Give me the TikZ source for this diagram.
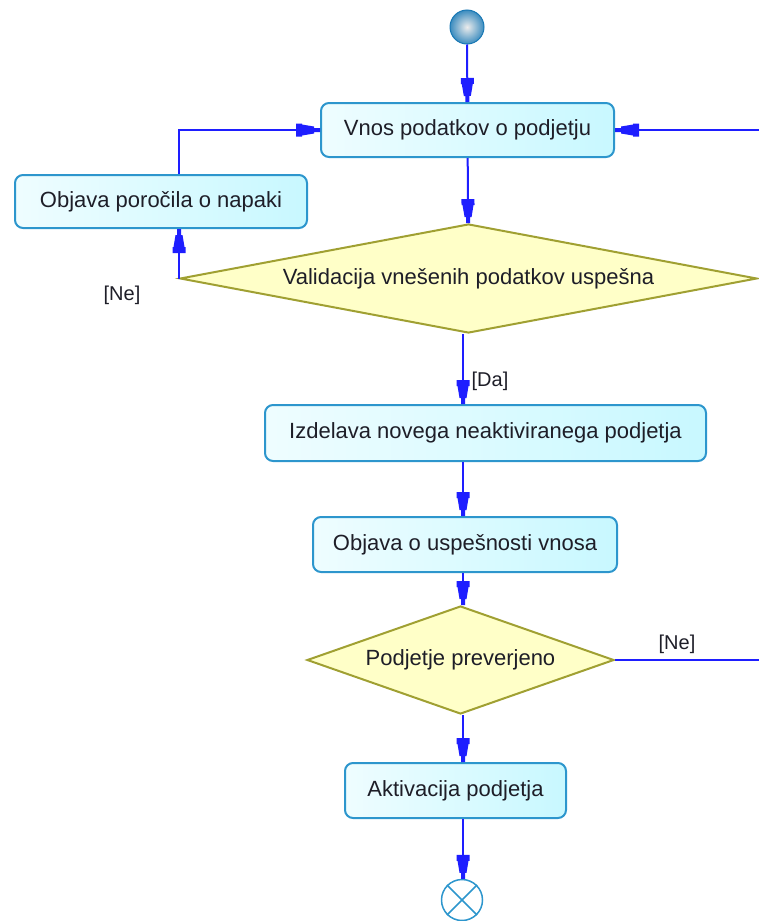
\documentclass[tikz,border=0pt]{standalone}
\usepackage{fontspec}
\setmainfont{Liberation Sans}
\usetikzlibrary{shapes.geometric,arrows.meta}
\definecolor{flowblue}{RGB}{30,30,255}
\definecolor{boxline}{RGB}{45,150,205}
\definecolor{boxfill}{RGB}{200,248,255}
\definecolor{dline}{RGB}{160,160,50}
\definecolor{dfill}{RGB}{255,255,200}
\definecolor{txt}{RGB}{30,30,40}
\definecolor{startedge}{RGB}{25,120,180}
% tip of the flow arrows
\pgfdeclarearrow{
  name=flowtip,
  setup code={
    \pgfarrowssettipend{0pt}
    \pgfarrowssetlineend{-8pt}
    \pgfarrowssetvisualbackend{-24pt}
    \pgfarrowssetbackend{-24pt}
  },
  drawing code={
    \pgfpathmoveto{\pgfpoint{0pt}{2pt}}
    \pgfpathlineto{\pgfpoint{-6pt}{2pt}}
    \pgfpathlineto{\pgfpoint{-6pt}{3.5pt}}
    \pgfpathlineto{\pgfpoint{-18pt}{5.5pt}}
    \pgfpathlineto{\pgfpoint{-18pt}{6.5pt}}
    \pgfpathlineto{\pgfpoint{-24pt}{6.5pt}}
    \pgfpathlineto{\pgfpoint{-24pt}{-6.5pt}}
    \pgfpathlineto{\pgfpoint{-18pt}{-6.5pt}}
    \pgfpathlineto{\pgfpoint{-18pt}{-5.5pt}}
    \pgfpathlineto{\pgfpoint{-6pt}{-3.5pt}}
    \pgfpathlineto{\pgfpoint{-6pt}{-2pt}}
    \pgfpathlineto{\pgfpoint{0pt}{-2pt}}
    \pgfpathclose
    \pgfusepathqfill
  }
}
\tikzset{abox/.style={
    rectangle,
    draw=boxline,
    line width=2,
    rounded corners=8,
    left color=boxfill!30,
    right color=boxfill,
    minimum height=54,
    text=txt,
    font=\fontsize{22}{26}\selectfont
  },
  dbox/.style={
    diamond,
    draw=dline,
    fill=dfill,
    line width=2,
    inner sep=0,
    text=txt,
    font=\fontsize{22}{26}\selectfont
  },
  flow/.style={color=flowblue,line width=2,-{flowtip}},
  lbl/.style={text=txt,inner sep=0,font=\fontsize{20}{24}\selectfont},
}
\begin{document}
\begin{tikzpicture}[x=1pt,y=-1pt]
  \useasboundingbox (0,0) rectangle (759,921);
  \node [circle,minimum size=34,inner sep=0,draw=startedge,line width=1,
         inner color=gray!15,outer color=startedge!85] (start) at (467,27) {};
  \node [abox,minimum width=293] (input) at (467.5,130) {Vnos podatkov o podjetju};
  \node [abox,minimum width=292,minimum height=53] (error) at (161,201.5) {Objava poročila o napaki};
  \node [dbox,aspect=5,minimum width=577,minimum height=109] (valid) at (468.5,278.5)
        {Validacija vnešenih podatkov uspešna};
  \node [abox,minimum width=441,minimum height=56] (create) at (485.5,433)
        {Izdelava novega neaktiviranega podjetja};
  \node [abox,minimum width=304,minimum height=55] (success) at (465,544.5)
        {Objava o uspešnosti vnosa};
  \node [dbox,aspect=2.8,minimum width=307,minimum height=108] (check) at (460.5,660)
        {Podjetje preverjeno};
  \node [abox,minimum width=221,minimum height=55] (activate) at (455.5,790.5)
        {Aktivacija podjetja};
  \node [circle,minimum size=41,inner sep=0,draw=boxline,line width=1.5,fill=white] (final) at (462,900) {};
  \draw [boxline,line width=1.5] (final.45) -- (final.225) (final.135) -- (final.315);
  % labels
  \node [lbl] (neleft) at (122,295) {[Ne]};
  \node [lbl] (da) at (490,381) {[Da]};
  \node [lbl] (neright) at (677,644) {[Ne]};
  % loose ends at the right border
  \coordinate (backin) at (759,130);
  \coordinate (backout) at (759,660);
  \coordinate (col) at (463,0);
  % connectors
  \draw [flow] (start) -- (input);
  \draw [flow] (input) -- (valid);
  \draw [flow] (valid.west) -- (valid.west |- error.south);
  \draw [flow] (valid.west |- error.north) |- (input.west);
  \draw [flow] (backin) -- (input.east);
  \draw [flow] (valid.south -| col) -- (create.north -| col);
  \draw [flow] (create.south -| col) -- (success.north -| col);
  \draw [flow] (success.south -| col) -- (check.north -| col);
  \draw [flow] (check.south -| col) -- (activate.north -| col);
  \draw [flow] (activate.south -| col) -- (final.north -| col);
  \draw [color=flowblue,line width=2] (check.east) -- (backout);
\end{tikzpicture}
\end{document}
